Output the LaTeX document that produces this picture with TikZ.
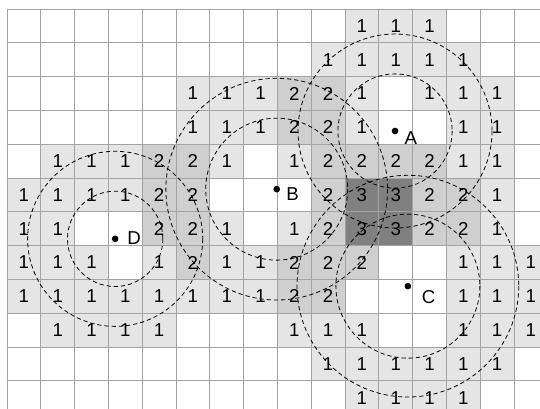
\documentclass[tikz,border=0pt]{standalone}
\usepackage{fontspec}
\setmainfont{Liberation Sans}
\definecolor{lvl1}{gray}{0.9}
\definecolor{lvl2}{gray}{0.81}
\definecolor{lvl3}{gray}{0.5}
\definecolor{gridgray}{gray}{0.64}
\begin{document}
\begin{tikzpicture}[x=25.35pt,y=-25.35pt,
  cellnum/.style={font=\fontsize{14}{16}\selectfont,inner sep=0pt},
  gridline/.style={gridgray,line width=0.5pt},
  ring/.style={draw=black,line width=0.6pt,dash pattern=on 3.2pt off 2.2pt},
  spot/.style={circle,fill=black,inner sep=0pt,minimum size=5pt},
  ptlabel/.style={font=\fontsize{14}{16}\selectfont,inner sep=0pt}]
  \useasboundingbox (-0.207,-0.266) rectangle (15.769,11.834);
  \clip (-0.207,-0.266) rectangle (15.769,11.834);
  % how many rings cover each cell
  \foreach \row [count=\r from 0] in {
    {0,0,0,0,0,0,0,0,0,0,1,1,1,0,0,0},
    {0,0,0,0,0,0,0,0,0,1,1,1,1,1,0,0},
    {0,0,0,0,0,1,1,1,2,2,1,0,1,1,1,0},
    {0,0,0,0,0,1,1,1,2,2,1,0,0,1,1,0},
    {0,1,1,1,2,2,1,0,1,2,2,2,2,1,1,0},
    {1,1,1,1,2,2,0,0,0,2,3,3,2,2,1,0},
    {1,1,0,0,2,2,1,0,1,2,3,3,2,2,1,0},
    {1,1,1,0,1,2,1,1,2,2,2,0,0,1,1,1},
    {1,1,1,1,1,1,1,1,2,2,0,0,0,1,1,1},
    {0,1,1,1,1,0,0,0,1,1,1,0,0,1,1,1},
    {0,0,0,0,0,0,0,0,0,1,1,1,1,1,1,0},
    {0,0,0,0,0,0,0,0,0,0,1,1,1,1,0,0}}{
    \foreach \v [count=\c from 0] in \row {
      \ifnum\v>0
        \fill[lvl\v] (\c,\r) rectangle (\c+1,\r+1);
        \node[cellnum] (n\c-\r) at (\c+0.5,\r+0.5) {\v};
      \fi
    }
  }
  \foreach \i in {0,...,16} \draw[gridline] (\i,0) -- (\i,12);
  \foreach \j in {0,...,12} \draw[gridline] (0,\j) -- (16,\j);
  % query points
  \coordinate (A) at (11.48,3.61);
  \coordinate (B) at (7.98,5.33);
  \coordinate (C) at (11.86,8.20);
  \coordinate (D) at (3.20,6.80);
  \draw[ring] (A) circle[radius=1.69] (A) circle[radius=2.87];
  \draw[ring] (B) circle[radius=2.10] (B) circle[radius=3.28];
  \draw[ring] (C) circle[radius=2.13] (C) circle[radius=3.28];
  \draw[ring] (D) circle[radius=1.41] (D) circle[radius=2.59];
  \node[spot] (dotA) at (A) {};
  \node[spot] (dotB) at (B) {};
  \node[spot] (dotC) at (C) {};
  \node[spot] (dotD) at (D) {};
  \node[ptlabel] (labA) at (11.95,3.83) {A};
  \node[ptlabel] (labB) at (8.45,5.49) {B};
  \node[ptlabel] (labC) at (12.47,8.52) {C};
  \node[ptlabel] (labD) at (3.76,6.78) {D};
\end{tikzpicture}
\end{document}
